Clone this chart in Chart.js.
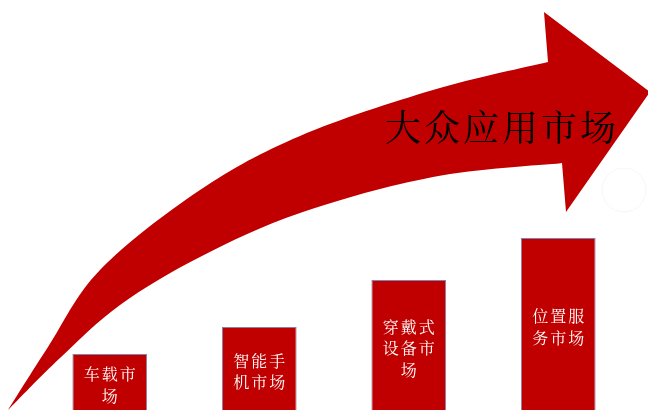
<!DOCTYPE html>
<html>
<head>
<meta charset="utf-8">
<script src="https://cdn.jsdelivr.net/npm/chart.js@4.4.0/dist/chart.umd.min.js"></script>
<style>
  html, body { margin: 0; padding: 0; background: #fff; }
  #wrap { width: 648px; height: 410px; }
</style>
</head>
<body>
<div id="wrap"><canvas id="marketChart"></canvas></div>
<script>
const markets = ['车载市场', '智能手机市场', '穿戴式设备市场', '位置服务市场'];
const marketLines = [['车载市', '场'], ['智能手', '机市场'], ['穿戴式', '设备市', '场'], ['位置服', '务市场']];
const marketValues = [56, 83, 130, 172];
const arrowTitle = '大众应用市场';

// arrow outline: x on the "xa" axis, y on the same value axis as the bars
const arrowTopX = [8, 48, 100, 200, 300, 433, 548];
const arrowTopY = [0, 63, 140, 220, 274, 320, 348];
const arrowBottomX = [8, 60, 120, 200, 300, 433, 562];
const arrowBottomY = [0, 52, 105, 153, 197, 233, 247];
const arrowHeadX = [548, 544, 650, 566, 562, 548];
const arrowHeadY = [348, 398, 318, 198, 247, 246];

const red = '#c00000';
const cjk = '"Noto Serif CJK SC", "Noto Sans CJK SC", sans-serif';

// catmull-rom through the points, drawn as bezier pieces
function smoothPath(ctx, pts) {
  for (let i = 0; i < pts.length - 1; i++) {
    const p0 = pts[i - 1] || pts[i];
    const p1 = pts[i];
    const p2 = pts[i + 1];
    const p3 = pts[i + 2] || p2;
    ctx.bezierCurveTo(
      p1[0] + (p2[0] - p0[0]) / 6, p1[1] + (p2[1] - p0[1]) / 6,
      p2[0] - (p3[0] - p1[0]) / 6, p2[1] - (p3[1] - p1[1]) / 6,
      p2[0], p2[1]);
  }
}

const arrowPlugin = {
  id: 'arrow',
  beforeDatasetsDraw(chart) {
    const {ctx, scales} = chart;
    const px = v => scales.xa.getPixelForValue(v);
    const py = v => scales.y.getPixelForValue(v);
    const top = arrowTopX.map((x, i) => [px(x), py(arrowTopY[i])]);
    const bottom = arrowBottomX.map((x, i) => [px(x), py(arrowBottomY[i])]).reverse();

    ctx.save();
    ctx.fillStyle = red;
    ctx.beginPath();
    ctx.moveTo(top[0][0], top[0][1]);
    smoothPath(ctx, top);
    ctx.lineTo(bottom[0][0], bottom[0][1]);
    smoothPath(ctx, bottom);
    ctx.closePath();
    ctx.fill();

    ctx.beginPath();
    arrowHeadX.forEach((x, i) => {
      if (i === 0) ctx.moveTo(px(x), py(arrowHeadY[i]));
      else ctx.lineTo(px(x), py(arrowHeadY[i]));
    });
    ctx.closePath();
    ctx.fill();

    // faint ring right of the arrow head
    ctx.strokeStyle = '#f6f6f6';
    ctx.lineWidth = 1;
    ctx.beginPath();
    ctx.arc(px(624), py(220), 22, 0, Math.PI * 2);
    ctx.stroke();

    ctx.fillStyle = '#000';
    ctx.font = '36px ' + cjk;
    ctx.letterSpacing = '3px';
    ctx.textAlign = 'center';
    ctx.textBaseline = 'middle';
    ctx.fillText(arrowTitle, px(502), py(283));
    ctx.restore();
  },
  afterDatasetsDraw(chart) {
    const {ctx} = chart;
    const bars = chart.getDatasetMeta(0).data;
    ctx.save();
    ctx.fillStyle = '#fff';
    ctx.font = '16px ' + cjk;
    ctx.letterSpacing = '2px';
    ctx.textAlign = 'center';
    ctx.textBaseline = 'middle';
    const lh = 21.5;
    bars.forEach((bar, i) => {
      const lines = marketLines[i];
      const mid = (bar.y + bar.base) / 2 + 3;
      lines.forEach((t, j) => {
        ctx.fillText(t, bar.x + 1, mid + (j - (lines.length - 1) / 2) * lh);
      });
    });
    ctx.restore();
  }
};

const ctx = document.getElementById('marketChart').getContext('2d');
new Chart(ctx, {
  type: 'bar',
  data: {
    labels: markets,
    datasets: [{
      data: marketValues,
      backgroundColor: red,
      borderColor: '#8084ad',
      borderWidth: 1,
      categoryPercentage: 1,
      barPercentage: 0.5
    }]
  },
  options: {
    responsive: true,
    maintainAspectRatio: false,
    animation: false,
    layout: {
      padding: { left: 35, right: 15, top: 0, bottom: 0 }
    },
    plugins: {
      legend: { display: false },
      tooltip: { enabled: false }
    },
    scales: {
      x: { display: false },
      xa: { type: 'linear', display: false, offset: false, min: 35, max: 633 },
      y: { display: false, min: 0, max: 410 }
    }
  },
  plugins: [arrowPlugin]
});
</script>
</body>
</html>
